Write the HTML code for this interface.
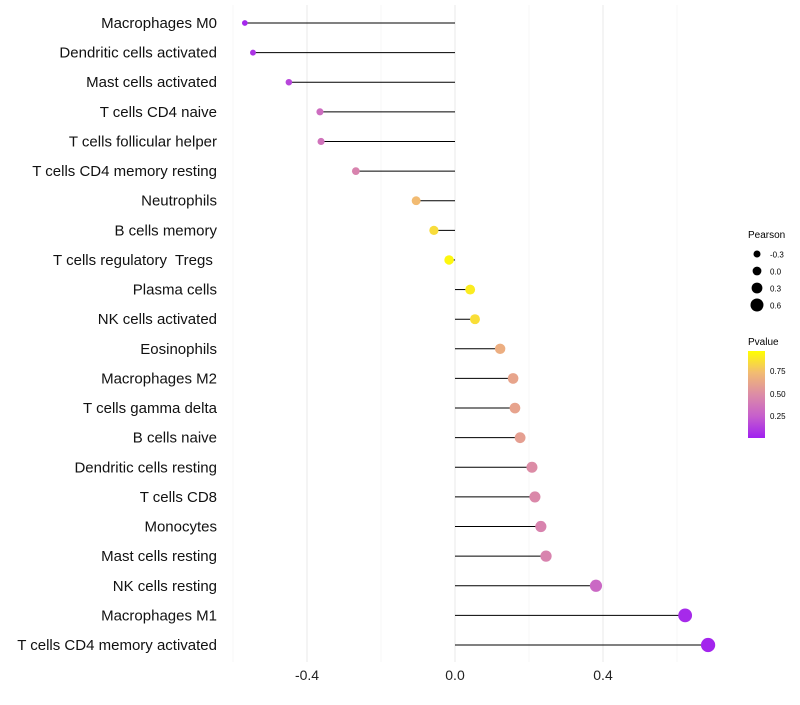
<!DOCTYPE html>
<html><head><meta charset="utf-8"><style>
body{margin:0;background:#fff;font-family:"Liberation Sans",sans-serif}
</style></head><body>
<svg id="chart" width="800" height="700" xmlns="http://www.w3.org/2000/svg" font-family="Liberation Sans, sans-serif">
<g id="grid"></g>
<g id="marks"></g>
<g id="ylabels"></g>
<g id="xlabels"></g>
<g>
<text x="748" y="238" font-size="10">Pearson</text>
<circle cx="757" cy="254" r="3.5"/><text x="770" y="257.5" font-size="8">-0.3</text>
<circle cx="757" cy="271" r="4.4"/><text x="770" y="274.5" font-size="8">0.0</text>
<circle cx="757" cy="288" r="5.4"/><text x="770" y="291.5" font-size="8">0.3</text>
<circle cx="757" cy="305" r="6.5"/><text x="770" y="308.5" font-size="8">0.6</text>
</g>
<g>
<defs><linearGradient id="cg" x1="0" y1="1" x2="0" y2="0">
<stop offset="0" stop-color="#a020f0"/><stop offset="0.25" stop-color="#c65fcc"/><stop offset="0.5" stop-color="#dc8ca6"/><stop offset="0.75" stop-color="#f2bb72"/><stop offset="1" stop-color="#ffff00"/></linearGradient></defs>
<text x="748" y="345" font-size="10">Pvalue</text>
<rect x="748" y="351" width="17" height="87" fill="url(#cg)"/>
<text x="770" y="374" font-size="8">0.75</text>
<text x="770" y="397" font-size="8">0.50</text>
<text x="770" y="419" font-size="8">0.25</text>
</g>
</svg>
<script>
const categories=["Macrophages M0","Dendritic cells activated","Mast cells activated","T cells CD4 naive","T cells follicular helper","T cells CD4 memory resting","Neutrophils","B cells memory","T cells regulatory  Tregs ","Plasma cells","NK cells activated","Eosinophils","Macrophages M2","T cells gamma delta","B cells naive","Dendritic cells resting","T cells CD8","Monocytes","Mast cells resting","NK cells resting","Macrophages M1","T cells CD4 memory activated"];
const pearson=[-0.568,-0.546,-0.449,-0.365,-0.362,-0.268,-0.105,-0.057,-0.016,0.041,0.054,0.122,0.157,0.162,0.176,0.208,0.216,0.232,0.246,0.381,0.622,0.684];
const pvalue=[0.03,0.08,0.15,0.33,0.36,0.45,0.75,0.87,0.97,0.93,0.88,0.68,0.63,0.62,0.6,0.5,0.48,0.45,0.45,0.3,0.04,0.02];
const xTicks=[-0.4,0.0,0.4];
const xMinor=[-0.6,-0.2,0.2,0.6];
const NS="http://www.w3.org/2000/svg";
const x=v=>455+v*370;
const y=i=>23+i*(622/21);
const rad=v=>Math.max(1.5,4.8+v*3.4);
function lerp(a,b,t){return a.map((c,k)=>Math.round(c+(b[k]-c)*t));}
const stops=[[160,32,240],[198,95,204],[220,140,166],[242,187,114],[255,255,0]];
function col(p){p=Math.max(0,Math.min(1,p));const s=p*4,i=Math.min(3,Math.floor(s));const c=lerp(stops[i],stops[i+1],s-i);return `rgb(${c})`;}
function mk(tag,attrs,parent){const e=document.createElementNS(NS,tag);for(const k in attrs)e.setAttribute(k,attrs[k]);parent.appendChild(e);return e;}
const grid=document.getElementById('grid'),marks=document.getElementById('marks'),yl=document.getElementById('ylabels'),xl=document.getElementById('xlabels');
xMinor.forEach(v=>{const l=mk('line',{x1:x(v),x2:x(v),y1:5,y2:662,stroke:'#f2f2f2','stroke-width':0.6},grid);

});
xTicks.forEach(v=>{const l=mk('line',{x1:x(v),x2:x(v),y1:5,y2:662,stroke:'#ebebeb','stroke-width':1.1},grid);


const t=mk('text',{x:x(v),y:680,'font-size':14,'text-anchor':'middle',fill:'#222'},xl);t.textContent=v.toFixed(1);

});
categories.forEach((c,i)=>{
const l=mk('line',{x1:x(0),x2:x(pearson[i]),y1:y(i),y2:y(i),stroke:'#000','stroke-width':1},marks);


const p=mk('circle',{cx:x(pearson[i]),cy:y(i),r:rad(pearson[i]),fill:col(pvalue[i])},marks);


const t=mk('text',{x:217,y:y(i)+5,'font-size':15,'text-anchor':'end',fill:'#111'},yl);t.textContent=c;


t.setAttribute('xml:space','preserve');t.style.whiteSpace='pre';
});
</script>
</body></html>
